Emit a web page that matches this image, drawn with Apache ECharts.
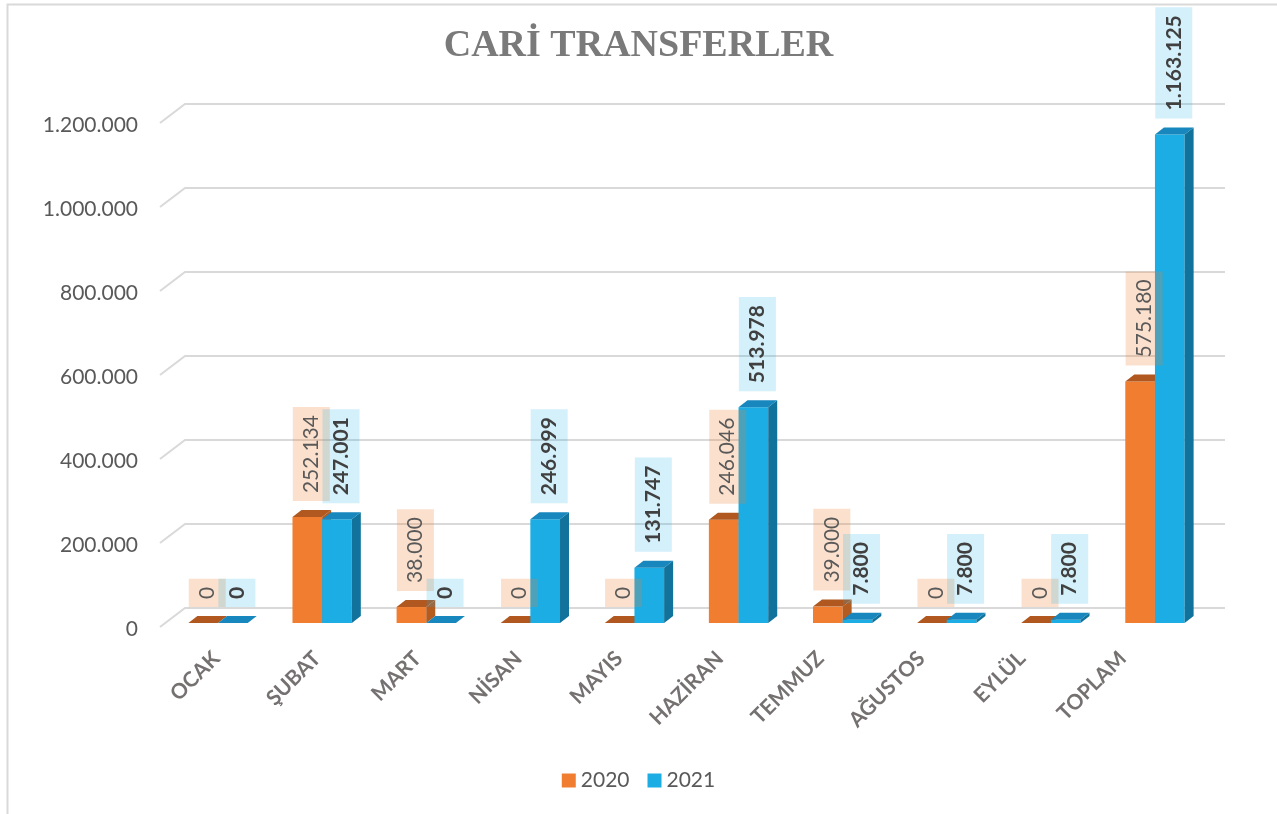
<!DOCTYPE html>
<html>
<head>
<meta charset="utf-8">
<script src="https://cdn.jsdelivr.net/npm/echarts@6/dist/echarts.min.js"></script>
<style>
  html, body { margin: 0; padding: 0; background: #fff; }
  #main { width: 1277px; height: 814px; }
</style>
</head>
<body>
<div id="main"></div>
<script>
// veriler
var months = ["OCAK", "ŞUBAT", "MART", "NİSAN", "MAYIS", "HAZİRAN", "TEMMUZ", "AĞUSTOS", "EYLÜL", "TOPLAM"];
var years = ["2020", "2021"];
var values2020 = [0, 252134, 38000, 0, 0, 246046, 39000, 0, 0, 575180];
var values2021 = [0, 247001, 0, 246999, 131747, 513978, 7800, 7800, 7800, 1163125];
var yTicks = [0, 200000, 400000, 600000, 800000, 1000000, 1200000];

var DX = 9, DY = 7; // 3B derinlik
var faces = [
  { front: "#F17E30", top: "#B0581F", side: "#B45B20", label: "rgba(240,126,47,0.24)", text: "#595959", weight: "normal" },
  { front: "#1BADE4", top: "#1787BD", side: "#11729B", label: "rgba(28,173,228,0.19)", text: "#404040", weight: "bold" }
];

function fmt(v) {
  return String(v).replace(/\B(?=(\d{3})+(?!\d))/g, ".");
}

function barRenderer(si) {
  return function (params, api) {
    var cat = api.value(0), val = api.value(1);
    var base = api.coord([cat, 0]);
    var top = api.coord([cat, val]);
    var band = api.size([1, 0])[0];
    var w = band * 0.285;
    var x0 = si === 0 ? base[0] - w : base[0];
    var x1 = x0 + w;
    var yb = base[1], yt = top[1];
    var f = faces[si];
    return {
      type: "group",
      children: [
        { type: "rect", z2: si, shape: { x: x0, y: yt, width: w, height: yb - yt }, style: { fill: f.front } },
        { type: "polygon", z2: si, shape: { points: [[x1, yb], [x1 + DX, yb - DY], [x1 + DX, yt - DY], [x1, yt]] }, style: { fill: f.side } },
        { type: "polygon", z2: si, shape: { points: [[x0, yt], [x0 + DX, yt - DY], [x1 + DX, yt - DY], [x1, yt]] }, style: { fill: f.top } },
        {
          type: "text", z2: 10,
          x: (x0 + x1) / 2 + 4, y: yt - DY - 9,
          rotation: Math.PI / 2,
          style: {
            text: fmt(val), fill: f.text,
            font: f.weight + " 21px Lato",
            align: "left", verticalAlign: "middle",
            backgroundColor: f.label, padding: [8, 8, 8, 8]
          }
        }
      ]
    };
  };
}

var chart = echarts.init(document.getElementById("main"));
chart.setOption({
  backgroundColor: "#fff",
  animation: false,
  title: {
    text: "CARİ TRANSFERLER",
    left: "center",
    top: 22,
    textStyle: { fontFamily: "Liberation Serif", fontWeight: "bold", fontSize: 38, color: "#7a7a7a" }
  },
  graphic: [{
    type: "rect", left: 5, top: 2,
    shape: { width: 1271, height: 830 },
    style: { fill: "none", stroke: "#d9d9d9", lineWidth: 2 }
  }],
  legend: {
    data: years,
    left: "center",
    top: 765,
    icon: "rect",
    itemWidth: 14, itemHeight: 14, itemGap: 18,
    textStyle: { fontFamily: "Lato", fontSize: 21, color: "#595959" }
  },
  grid: [
    { left: 166, right: 70, top: 119, bottom: 191 },
    // etiketler için biraz daha dar ızgara (perspektif)
    { left: 166, right: 104, top: 119, bottom: 191 }
  ],
  xAxis: [
    {
      type: "category",
      data: months,
      axisLine: { show: false },
      axisTick: { show: false },
      axisLabel: { show: false }
    },
    {
      type: "category",
      gridIndex: 1,
      data: months,
      axisLine: { show: false },
      axisTick: { show: false },
      axisLabel: {
        rotate: 45, margin: 32, interval: 0,
        fontFamily: "Lato", fontWeight: "bold", fontSize: 21, color: "#767171"
      }
    }
  ],
  yAxis: [
    {
      type: "value",
      min: 0, max: 1200000, interval: 200000,
      axisLine: { show: false },
      axisTick: { show: false },
      splitLine: { show: false },
      axisLabel: {
        margin: 28,
        verticalAlign: "top",
        lineHeight: 12,
        fontFamily: "Lato", fontSize: 21, color: "#595959",
        formatter: fmt
      }
    },
    {
      type: "value", gridIndex: 1,
      min: 0, max: 1200000, interval: 200000,
      show: false
    }
  ],
  series: [
    {
      type: "custom",
      silent: true,
      z: 1,
      data: yTicks.map(function (v) { return [0, v]; }),
      renderItem: function (params, api) {
        var cs = params.coordSys;
        var y = api.coord([0, api.value(1)])[1];
        return {
          type: "polyline",
          shape: { points: [[cs.x - 6, y + 4], [cs.x + 19, y - 15], [cs.x + cs.width + 18, y - 15]] },
          style: { stroke: "#d9d9d9", lineWidth: 2, fill: null }
        };
      }
    },
    {
      name: years[0], type: "custom", z: 2,
      itemStyle: { color: faces[0].front },
      data: values2020.map(function (v, i) { return [i, v]; }),
      renderItem: barRenderer(0)
    },
    {
      name: years[1], type: "custom", z: 2,
      itemStyle: { color: faces[1].front },
      data: values2021.map(function (v, i) { return [i, v]; }),
      renderItem: barRenderer(1)
    }
  ]
});
</script>
</body>
</html>
